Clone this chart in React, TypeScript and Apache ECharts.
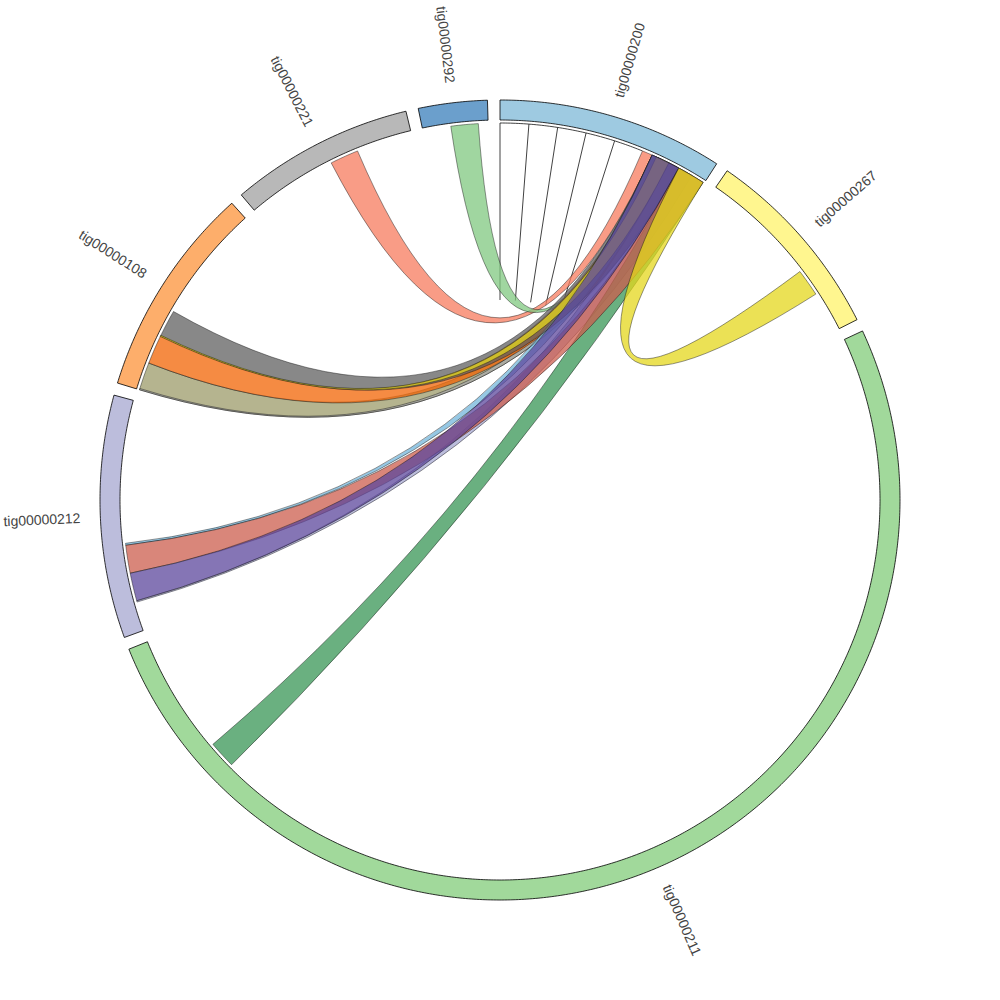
import React, { useEffect, useRef } from 'react';
import * as echarts from 'echarts';

// contigs (lengths in kb, drawn clockwise from 12 o'clock)
const contigNames = ['tig00000200', 'tig00000267', 'tig00000211', 'tig00000212', 'tig00000108', 'tig00000221', 'tig00000292'];
const contigLengths = [328, 286, 1831, 353, 309, 267, 100];
const contigColors = ['#9ecae1', '#fff68f', '#a1d99b', '#bcbddc', '#fdae6b', '#b8b8b8', '#6b9fcc'];
const GAP = 18;

// links: every alignment maps onto tig00000200 (index 0); listed in drawing order
const linkSource = [5, 6, 4, 4, 4, 3, 3, 4, 4, 2, 3, 3, 1];
const linkSourceStart = [137, 43, 0, 0, 43, 44, 132, 88, 87, 1604, 89, 46, 181];
const linkSourceEnd = [181, 85, 43, 2, 88, 46, 135, 130, 89, 1646, 132, 89, 223];
const linkTargetStart = [222, 238, 248, 266, 242, 266, 238, 238, 245, 283, 283, 238, 283];
const linkTargetEnd = [238, 256, 283, 283, 280, 306, 266, 283, 266, 326, 326, 283, 326];
const linkColors = [
  'rgba(247,123,94,0.75)',
  'rgba(128,200,128,0.75)',
  'rgba(156,155,106,0.75)',
  'rgba(168,168,168,0.75)',
  'rgba(242,100,4,0.75)',
  'rgba(166,167,208,0.75)',
  'rgba(115,182,219,0.75)',
  'rgba(96,96,96,0.75)',
  'rgba(228,215,28,0.75)',
  'rgba(56,150,86,0.75)',
  'rgba(204,94,78,0.75)',
  'rgba(92,71,156,0.75)',
  'rgba(228,215,28,0.75)',
];

// thin zero-width marks inside tig00000200
const tickPositions = [0, 44, 88, 132, 177];
const tickArcEnd = 222;

const R_OUT = 400;
const R_IN = 380;
const R_LINK = 377;
const R_TICK_END = 200;
const R_LABEL = 420;

const offsets: number[] = [];
{
  let acc = 0;
  for (let i = 0; i < contigLengths.length; i++) {
    offsets.push(acc);
    acc += contigLengths[i] + GAP;
  }
}
const TOTAL = contigLengths.reduce((a, b) => a + b, 0) + GAP * contigLengths.length;

function arcPath(api: any, r: number, a0: number, a1: number, first: boolean) {
  const n = Math.max(6, Math.ceil(Math.abs(a1 - a0) / 4));
  let d = '';
  for (let k = 0; k <= n; k++) {
    const a = a0 + ((a1 - a0) * k) / n;
    const p = api.coord([r, a]);
    d += (k === 0 && first ? 'M' : 'L') + p[0].toFixed(2) + ' ' + p[1].toFixed(2) + ' ';
  }
  return d;
}

// control point of the bezier joining two positions: centre, pulled outwards for close pairs
function ctrl(api: any, a: number, b: number) {
  let d = Math.abs(a - b) % TOTAL;
  if (d > TOTAL / 2) d = TOTAL - d;
  const deg = (d / TOTAL) * 360;
  const off = Math.max(0, 30 * (1 - deg / 90));
  let mid = (a + b) / 2;
  if (Math.abs(a - b) > TOTAL / 2) mid = (mid + TOTAL / 2) % TOTAL;
  return api.coord([off, mid]);
}

export default function App() {
  const ref = useRef<HTMLDivElement>(null);
  useEffect(() => {
    if (!ref.current) return;
    const chart = echarts.init(ref.current, undefined, { renderer: 'svg' });

    const segItem = (params: any, api: any) => {
      const i = params.dataIndex;
      const a0 = offsets[i];
      const a1 = a0 + contigLengths[i];
      let d = arcPath(api, R_OUT, a0, a1, true);
      d += arcPath(api, R_IN, a1, a0, false);
      d += 'Z';
      const mid = (a0 + a1) / 2;
      const lp = api.coord([R_LABEL, mid]);
      const theta = (mid / TOTAL) * 360;
      const right = theta < 180;
      const rot = ((right ? 90 - theta : 270 - theta) * Math.PI) / 180;
      return {
        type: 'group',
        children: [
          { type: 'path', shape: { pathData: d }, style: { fill: contigColors[i], stroke: '#000', lineWidth: 0.8 } },
          {
            type: 'text',
            x: lp[0],
            y: lp[1],
            rotation: rot,
            style: {
              text: contigNames[i],
              fill: '#444',
              font: '14px "Liberation Sans", Arial, sans-serif',
              align: right ? 'left' : 'right',
              verticalAlign: 'middle',
            },
          },
        ],
      };
    };

    const linkItem = (params: any, api: any) => {
      const i = params.dataIndex;
      const so = offsets[linkSource[i]];
      const s0 = so + linkSourceStart[i];
      const s1 = so + linkSourceEnd[i];
      const t0 = offsets[0] + linkTargetStart[i];
      const t1 = offsets[0] + linkTargetEnd[i];
      const c1 = ctrl(api, s1, t0);
      const c2 = ctrl(api, t1, s0);
      const pT0 = api.coord([R_LINK, t0]);
      const pS0 = api.coord([R_LINK, s0]);
      let d = arcPath(api, R_LINK, s0, s1, true);
      d += 'Q' + c1[0].toFixed(2) + ' ' + c1[1].toFixed(2) + ' ' + pT0[0].toFixed(2) + ' ' + pT0[1].toFixed(2) + ' ';
      d += arcPath(api, R_LINK, t0, t1, false);
      d += 'Q' + c2[0].toFixed(2) + ' ' + c2[1].toFixed(2) + ' ' + pS0[0].toFixed(2) + ' ' + pS0[1].toFixed(2) + ' Z';
      return {
        type: 'path',
        shape: { pathData: d },
        style: { fill: linkColors[i], stroke: 'rgba(20,20,20,0.75)', lineWidth: 0.6 },
      };
    };

    const tickItem = (params: any, api: any) => {
      const children: any[] = [];
      const base = offsets[0];
      children.push({
        type: 'path',
        shape: { pathData: arcPath(api, R_LINK, base, base + tickArcEnd, true) },
        style: { fill: 'none', stroke: '#111', lineWidth: 0.8 },
      });
      tickPositions.forEach((t) => {
        const p0 = api.coord([R_LINK, base + t]);
        const p1 = api.coord([R_TICK_END, base + t]);
        children.push({
          type: 'line',
          shape: { x1: p0[0], y1: p0[1], x2: p1[0], y2: p1[1] },
          style: { stroke: '#111', lineWidth: 0.8 },
        });
      });
      return { type: 'group', children };
    };

    chart.setOption({
      animation: false,
      polar: { center: ['50%', '50%'], radius: R_OUT },
      angleAxis: { type: 'value', min: 0, max: TOTAL, startAngle: 90, clockwise: true, show: false },
      radiusAxis: { type: 'value', min: 0, max: R_OUT, show: false },
      series: [
        {
          type: 'custom',
          coordinateSystem: 'polar',
          data: [[0, 0]],
          renderItem: tickItem,
          silent: true,
        },
        {
          type: 'custom',
          coordinateSystem: 'polar',
          data: linkSource.map(() => [0, 0]),
          renderItem: linkItem,
          silent: true,
        },
        {
          type: 'custom',
          coordinateSystem: 'polar',
          data: contigNames.map(() => [0, 0]),
          renderItem: segItem,
          silent: true,
        },
      ],
    });
    return () => chart.dispose();
  }, []);
  return <div ref={ref} style={{ position: 'absolute', left: 0, top: 0, width: 1000, height: 1000 }} />;
}
